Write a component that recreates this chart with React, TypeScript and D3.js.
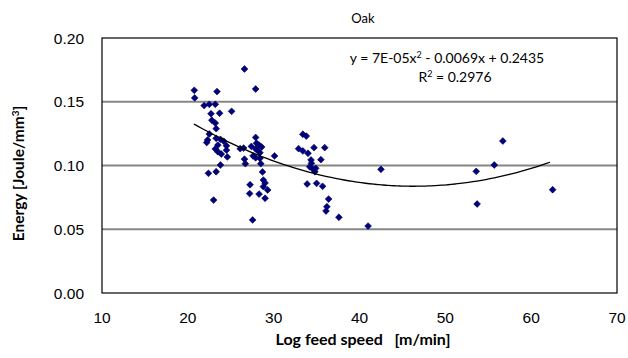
import React from "react";
import * as d3 from "d3";

// feed speed [m/min] and energy [J/mm3]
const speed = [
  26.6, 20.75, 27.9, 20.8, 23.4, 21.9, 22.5, 23.2, 25.1, 22.7, 23.7, 22.8, 23.2, 23.3,
  22.5, 22.3, 23.3, 23.8, 24.2, 22.2, 23.5, 23.2, 24.5, 23.5, 23.9, 24.6, 24.5,
  26.1, 26.5, 27.4, 27.9, 28.0, 28.3, 28.6, 28.1, 28.4, 27.9,
  26.6, 26.7, 27.6, 27.9, 28.4, 30.1, 28.5, 23.8, 23.3, 22.4, 28.7,
  28.8, 29.0, 28.8, 29.3, 27.25, 27.2, 28.3, 29.0, 23.0, 27.55,
  33.4, 33.8, 32.9, 33.4, 34.0, 34.7, 35.95, 34.35, 34.4, 34.2, 34.6, 34.8, 34.9,
  35.5, 42.5, 33.9, 35.0, 35.7, 36.4, 36.2, 36.1, 37.6, 41.0,
  56.7, 55.7, 53.6, 62.5, 53.7,
];
const energy = [
  0.1757, 0.159, 0.16, 0.153, 0.158, 0.147, 0.148, 0.148, 0.1425, 0.1406, 0.141, 0.1355, 0.1333, 0.1289,
  0.1247, 0.12, 0.1213, 0.1205, 0.119, 0.118, 0.116, 0.113, 0.1155, 0.1108, 0.109, 0.1067, 0.112,
  0.1132, 0.1137, 0.115, 0.122, 0.1175, 0.116, 0.1145, 0.112, 0.11, 0.113,
  0.105, 0.1014, 0.1075, 0.106, 0.1056, 0.1075, 0.1014, 0.1004, 0.0951, 0.0939, 0.095,
  0.0886, 0.0863, 0.0834, 0.0808, 0.0849, 0.078, 0.0776, 0.0743, 0.0729, 0.0573,
  0.1245, 0.1231, 0.1132, 0.1114, 0.1096, 0.114, 0.114, 0.1043, 0.1017, 0.099, 0.097, 0.0951, 0.0978,
  0.1046, 0.097, 0.0855, 0.086, 0.0837, 0.0737, 0.0677, 0.0643, 0.0594, 0.0525,
  0.1192, 0.1004, 0.0954, 0.081, 0.0698,
];

const xTicks = [10, 20, 30, 40, 50, 60, 70];
const yTicks = [0, 0.05, 0.1, 0.15, 0.2];
// poly trend line c + b*x + a*x^2 (unrounded)
const trendCoef = [0.2435, -0.0069, 7.45e-5];
const trendRange = [20.7, 62.6];

const W = 628;
const H = 358;
const margin = { top: 38, right: 11, bottom: 65, left: 102 };

export default function App() {
  const x = d3.scaleLinear().domain([10, 70]).range([margin.left, W - margin.right]);
  const y = d3.scaleLinear().domain([0, 0.2]).range([H - margin.bottom, margin.top]);

  const trendX = d3.range(trendRange[0], trendRange[1] + 0.01, 0.5);
  const trendLine = d3
    .line<number>()
    .x((d) => x(d))
    .y((d) => y(trendCoef[0] + trendCoef[1] * d + trendCoef[2] * d * d))
    .curve(d3.curveMonotoneX);

  // excel style diamond marker (square turned 45deg)
  const r = 3.4;
  const diamond = `M0,${-r}L${r},0L0,${r}L${-r},0Z`;
  const tickFont = "'Liberation Sans', Arial, sans-serif";
  const textFont = "Lato, 'Open Sans', sans-serif";

  return (
    <svg width={W} height={H} style={{ position: "absolute", left: 0, top: 0, background: "#fff" }}>
      <rect width={W} height={H} fill="#fff" />
      {yTicks.slice(1, -1).map((t) => (
        <line key={t} x1={x(10)} x2={x(70)} y1={y(t)} y2={y(t)} stroke="#868686" strokeWidth={2} />
      ))}
      <rect
        x={x(10)}
        y={y(0.2)}
        width={x(70) - x(10)}
        height={y(0) - y(0.2)}
        fill="none"
        stroke="#000"
        strokeWidth={1.2}
      />
      {yTicks.map((t) => (
        <text key={t} x={x(10) - 18} y={y(t) + 5.5} textAnchor="end" fontSize={15.5} fontFamily={tickFont}>
          {t.toFixed(2)}
        </text>
      ))}
      {xTicks.map((t) => (
        <text key={t} x={x(t)} y={y(0) + 30} textAnchor="middle" fontSize={15.5} fontFamily={tickFont}>
          {t}
        </text>
      ))}
      {speed.map((s, i) => (
        <path
          key={i}
          d={diamond}
          transform={`translate(${x(s)},${y(energy[i])})`}
          fill="#000080"
          stroke="#000050"
          strokeWidth={0.6}
        />
      ))}
      <path d={trendLine(trendX) as string} fill="none" stroke="#000" strokeWidth={1.3} />
      <text x={363} y={23} textAnchor="middle" fontSize={13} fontFamily={textFont}>
        Oak
      </text>
      <text x={447} y={63} textAnchor="middle" fontSize={14} fontFamily={textFont}>
        y = 7E-05x<tspan dy={-5} fontSize={9}>2</tspan>
        <tspan dy={5}> - 0.0069x + 0.2435</tspan>
      </text>
      <text x={455} y={82} textAnchor="middle" fontSize={14} fontFamily={textFont}>
        R<tspan dy={-5} fontSize={9}>2</tspan>
        <tspan dy={5}> = 0.2976</tspan>
      </text>
      <text
        x={363}
        y={345}
        textAnchor="middle"
        fontSize={16}
        fontWeight="bold"
        fontFamily={textFont}
        style={{ whiteSpace: "pre" }}
      >
        {"Log feed speed   [m/min]"}
      </text>
      <text
        transform={`translate(24,${(y(0) + y(0.2)) / 2 + 8}) rotate(-90)`}
        textAnchor="middle"
        fontSize={15.5}
        fontWeight="bold"
        fontFamily={textFont}
      >
        Energy [Joule/mm<tspan dy={-5} fontSize={10}>3</tspan>
        <tspan dy={5}>]</tspan>
      </text>
    </svg>
  );
}
